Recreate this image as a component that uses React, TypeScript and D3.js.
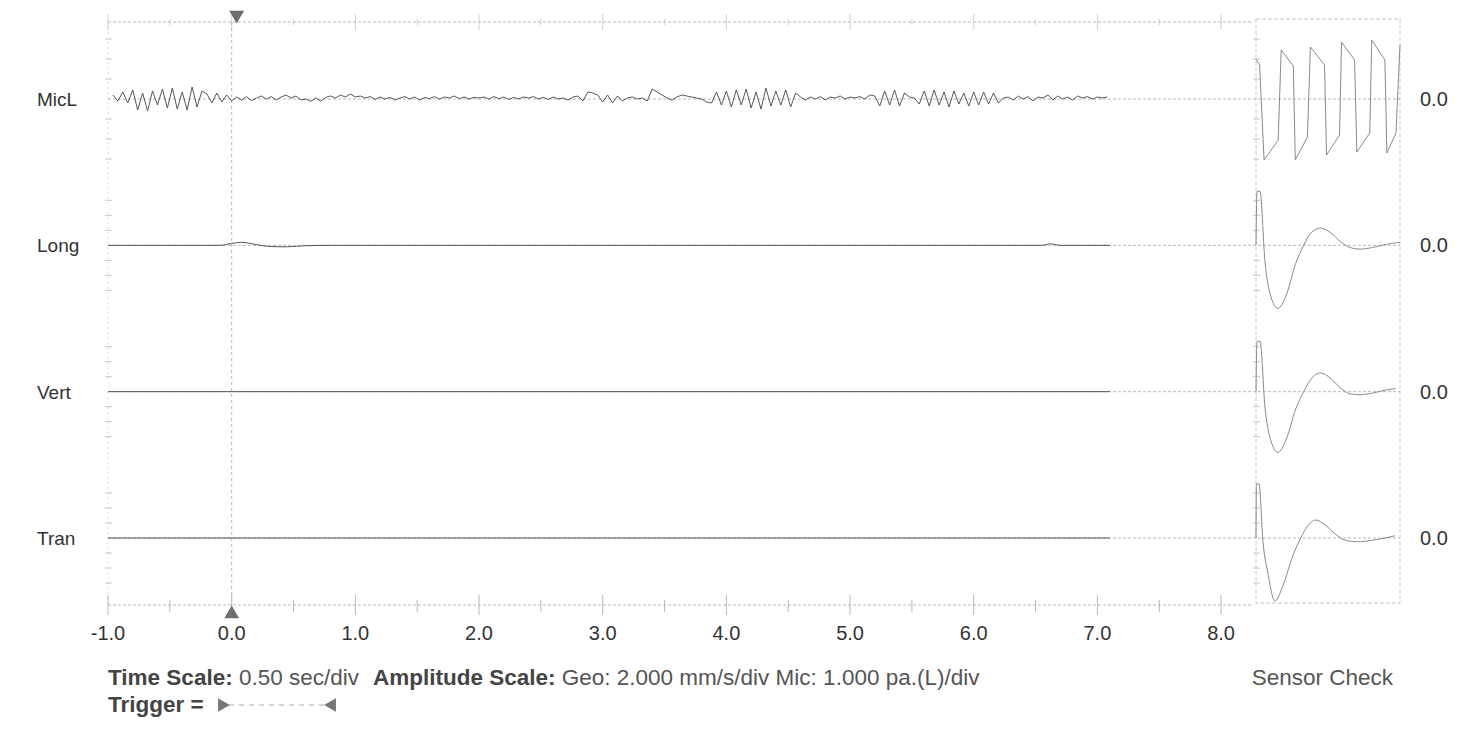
import React, { useRef, useEffect } from 'react';
import * as d3 from 'd3';

const channels = ['MicL', 'Long', 'Vert', 'Tran'];
const xTicks = [-1, 0, 1, 2, 3, 4, 5, 6, 7, 8];
const channelZero = ['0.0', '0.0', '0.0', '0.0'];

// MicL record, one sample every 0.04 s starting at -0.96 s (pa)
const micStart = -0.96;
const micStep = 0.04;
const micValues = [
  0.2, -0.1, 0.35, -0.2, 0.45, -0.55, 0.3, -0.6, 0.4, -0.3, 0.5, -0.45, 0.55, -0.5, 0.35, -0.55, 0.6, -0.4, 0.4, 0.25, -0.2, 0.3, -0.15, 0.2, -0.1,
  0.1, -0.05, 0.12, -0.08, 0.05, 0.15, 0.0, 0.12, -0.05, 0.1, 0.2, 0.05, 0.15, -0.05, 0.0, -0.12, 0.05, -0.1, 0.08, 0.15, 0.05, 0.2, 0.1, 0.25, 0.1,
  0.15, 0.05, 0.12, -0.02, 0.1, 0.0, 0.08, -0.05, 0.05, 0.12, 0.0, 0.1, -0.05, 0.08, 0.02, 0.12, 0.0, 0.1, 0.05, 0.15, 0.02, 0.1, 0.0, 0.08, 0.05,
  0.1, 0.0, 0.12, 0.02, 0.1, -0.02, 0.08, 0.0, 0.1, 0.05, 0.12, 0.0, 0.08, -0.02, 0.1, 0.0, 0.05, -0.05, 0.1, 0.15, -0.1, 0.35, 0.3, 0.2, -0.15,
  0.2, -0.2, 0.15, -0.1, 0.05, 0.1, 0.0, 0.05, -0.1, 0.5, 0.35, 0.2, 0.05, -0.05, 0.1, 0.2, 0.15, 0.1, 0.05, 0.0, -0.15, -0.2, 0.35, -0.3, 0.4,
  -0.4, 0.45, -0.3, 0.5, -0.45, 0.35, -0.5, 0.55, -0.35, 0.4, -0.3, 0.45, -0.4, 0.3, 0.1, -0.05, 0.1, 0.0, 0.12, -0.05, 0.1, 0.05, 0.15, 0.0, 0.1,
  0.05, 0.12, 0.0, 0.2, 0.15, -0.35, 0.4, -0.3, 0.45, -0.35, 0.3, 0.1, 0.05, -0.25, 0.4, -0.35, 0.45, -0.3, 0.35, -0.4, 0.4, -0.25, 0.3, -0.35, 0.35,
  -0.3, 0.35, -0.25, 0.3, -0.2, 0.05, 0.1, -0.05, 0.15, 0.0, 0.12, -0.1, 0.1, 0.05, 0.2, -0.05, 0.15, 0.0, 0.1, -0.05, 0.15, 0.05, 0.12, 0.0, 0.1,
  0.05, 0.1,
];

// geophone records [time s, mm/s]
const longTrace = [[-1, 0], [-0.1, 0], [0.0, 0.25], [0.08, 0.4], [0.2, 0.1], [0.3, -0.15], [0.45, -0.2], [0.6, -0.05], [0.8, 0], [6.55, 0], [6.62, 0.2], [6.7, 0], [7.1, 0]];
const vertTrace = [[-1, 0], [7.1, 0]];
const tranTrace = [[-1, 0], [7.1, 0]];

// sensor check [fraction of window, value]
const sensorMic = [
  [0.0, 2.0], [0.025, 1.7], [0.056, -3.05], [0.154, -2.05], [0.175, 2.45], [0.259, 1.65], [0.273, -3.05], [0.357, -1.9],
  [0.378, 2.6], [0.476, 1.7], [0.49, -2.8], [0.58, -1.8], [0.594, 2.85], [0.685, 1.95], [0.7, -2.65], [0.79, -1.7],
  [0.804, 2.95], [0.895, 1.95], [0.909, -2.7], [0.972, -1.7], [1.0, 2.7],
];
const sensorLong = [
  [0.0, 0], [0.007, 7.2], [0.028, 7.2], [0.062, -2.1], [0.103, -6.8], [0.152, -8.4], [0.207, -6.8], [0.276, -2.4], [0.331, 0],
  [0.379, 1.6], [0.448, 2.3], [0.517, 1.7], [0.586, 0.5], [0.655, -0.3], [0.724, -0.5], [0.807, -0.3], [0.897, 0.1], [1.0, 0.4],
];
const sensorVert = [
  [0.0, 0], [0.007, 6.7], [0.028, 6.7], [0.062, -2.0], [0.103, -6.5], [0.152, -8.1], [0.207, -6.5], [0.276, -2.3], [0.331, 0],
  [0.379, 1.6], [0.448, 2.5], [0.517, 1.8], [0.586, 0.5], [0.655, -0.3], [0.724, -0.4], [0.807, -0.2], [0.897, 0.2], [0.97, 0.4],
];
const sensorTran = [
  [0.0, 0], [0.003, 7.2], [0.021, 7.2], [0.048, -0.4], [0.083, -4.7], [0.131, -8.4], [0.186, -6.4], [0.255, -2.4], [0.31, 0],
  [0.359, 1.6], [0.414, 2.4], [0.483, 1.7], [0.552, 0.5], [0.621, -0.3], [0.71, -0.5], [0.807, -0.3], [0.897, 0], [0.966, 0.3],
];

const WIDTH = 1463;
const HEIGHT = 731;
const FONT = '"Liberation Sans", Arial, sans-serif';

const App: React.FC = () => {
  const svgRef = useRef<SVGSVGElement>(null);

  useEffect(() => {
    if (!svgRef.current) return;
    const svg = d3.select(svgRef.current);
    svg.selectAll('*').remove();

    const top = 22;
    const bottom = 605;
    const left = 108;
    const right = 1252;

    const x = d3.scaleLinear().domain([-1, 8.25]).range([left, right]);
    const sx = d3.scaleLinear().domain([0, 1]).range([1256, 1400]);
    const yBase = d3.scalePoint<string>().domain(channels).range([99, 538]);
    // mic 1 pa/div at 20px, geo 2 mm/s/div at 15px
    const ampMic = d3.scaleLinear().domain([-1, 1]).range([20, -20]);
    const ampGeo = d3.scaleLinear().domain([-2, 2]).range([15, -15]);
    const divPx = (ch: string) => (ch === 'MicL' ? 20 : 15);

    const grid = '#b8b8b8';

    // frame lines
    svg.append('line')
      .attr('x1', left).attr('x2', right).attr('y1', top).attr('y2', top)
      .attr('stroke', grid).attr('stroke-dasharray', '3,2');
    svg.append('line')
      .attr('x1', left).attr('x2', right).attr('y1', bottom).attr('y2', bottom)
      .attr('stroke', grid).attr('stroke-dasharray', '3,2');
    svg.append('line')
      .attr('x1', left).attr('x2', left).attr('y1', top).attr('y2', bottom)
      .attr('stroke', '#dcdcdc').attr('stroke-dasharray', '2,3');

    // half-second ticks on top and bottom
    const halfTicks = d3.range(-1, 8.01, 0.5);
    halfTicks.forEach((t) => {
      const major = Number.isInteger(t);
      svg.append('line')
        .attr('x1', x(t)).attr('x2', x(t))
        .attr('y1', bottom - (major ? 10 : 5)).attr('y2', bottom + (major ? 10 : 7))
        .attr('stroke', grid);
      svg.append('line')
        .attr('x1', x(t)).attr('x2', x(t))
        .attr('y1', top - (major ? 8 : 3)).attr('y2', top + (major ? 8 : 3))
        .attr('stroke', '#d0d0d0');
    });

    // trigger line at 0
    svg.append('line')
      .attr('x1', x(0)).attr('x2', x(0)).attr('y1', top).attr('y2', bottom)
      .attr('stroke', grid).attr('stroke-dasharray', '3,3');

    // x labels
    svg.append('g')
      .selectAll('text')
      .data(xTicks)
      .enter()
      .append('text')
      .attr('x', (d) => x(d))
      .attr('y', 640)
      .attr('text-anchor', 'middle')
      .attr('font-family', FONT)
      .attr('font-size', 20)
      .attr('fill', '#333')
      .text((d) => d.toFixed(1));

    // sensor check frame
    const sTop = 19;
    const sBottom = 603;
    svg.append('rect')
      .attr('x', sx(0)).attr('y', sTop)
      .attr('width', sx(1) - sx(0)).attr('height', sBottom - sTop)
      .attr('fill', 'none').attr('stroke', '#c8c8c8').attr('stroke-dasharray', '4,2');

    // channel baselines, division ticks and labels
    channels.forEach((ch, i) => {
      const y0 = yBase(ch) as number;
      svg.append('line')
        .attr('x1', left).attr('x2', sx(1)).attr('y1', y0).attr('y2', y0)
        .attr('stroke', grid).attr('stroke-dasharray', '3,2');
      const step = divPx(ch);
      [-3, -2, -1, 1, 2, 3].forEach((k) => {
        const yy = y0 + k * step;
        if (yy <= top + 2 || yy >= bottom - 2) return;
        [left, sx(0)].forEach((xx) => {
          svg.append('line')
            .attr('x1', xx - 3).attr('x2', xx + 4).attr('y1', yy).attr('y2', yy)
            .attr('stroke', '#c8c8c8');
        });
      });
      svg.append('text')
        .attr('x', 37).attr('y', y0 + 7)
        .attr('font-family', FONT).attr('font-size', 19).attr('fill', '#333')
        .text(ch);
      svg.append('text')
        .attr('x', 1420).attr('y', y0 + 7)
        .attr('font-family', FONT).attr('font-size', 20).attr('fill', '#333')
        .text(channelZero[i]);
    });

    // MicL record
    const micLine = d3.line<number>()
      .x((_, i) => x(micStart + i * micStep))
      .y((v) => (yBase('MicL') as number) + ampMic(v))
      .curve(d3.curveLinear);
    svg.append('path')
      .attr('d', micLine(micValues))
      .attr('fill', 'none').attr('stroke', '#444').attr('stroke-width', 0.9);

    // geophone records
    const geoRecords: [string, number[][]][] = [['Long', longTrace], ['Vert', vertTrace], ['Tran', tranTrace]];
    geoRecords.forEach(([ch, data]) => {
      const line = d3.line<number[]>()
        .x((d) => x(d[0]))
        .y((d) => (yBase(ch) as number) + ampGeo(d[1]))
        .curve(d3.curveMonotoneX);
      svg.append('path')
        .attr('d', line(data))
        .attr('fill', 'none').attr('stroke', '#555').attr('stroke-width', 1);
    });

    // sensor check traces
    const micSensorLine = d3.line<number[]>()
      .x((d) => sx(d[0]))
      .y((d) => (yBase('MicL') as number) + ampMic(d[1]));
    svg.append('path')
      .attr('d', micSensorLine(sensorMic))
      .attr('fill', 'none').attr('stroke', '#8a8a8a').attr('stroke-width', 1);

    const sensorGeo: [string, number[][]][] = [['Long', sensorLong], ['Vert', sensorVert], ['Tran', sensorTran]];
    sensorGeo.forEach(([ch, data]) => {
      const line = d3.line<number[]>()
        .x((d) => sx(d[0]))
        .y((d) => (yBase(ch) as number) + ampGeo(d[1]))
        .curve(d3.curveMonotoneX);
      svg.append('path')
        .attr('d', line(data))
        .attr('fill', 'none').attr('stroke', '#8a8a8a').attr('stroke-width', 1);
    });

    // trigger markers
    const tri = d3.symbol().type(d3.symbolTriangle).size(95);
    svg.append('path')
      .attr('d', tri())
      .attr('transform', `translate(${x(0) + 5},${top - 7}) rotate(180)`)
      .attr('fill', '#6e6e6e');
    svg.append('path')
      .attr('d', tri())
      .attr('transform', `translate(${x(0)},${bottom + 9})`)
      .attr('fill', '#6e6e6e');

    // footer
    const footer = svg.append('text')
      .attr('x', 108).attr('y', 685)
      .attr('font-family', FONT).attr('font-size', 22.5).attr('fill', '#555')
      .attr('xml:space', 'preserve');
    footer.append('tspan').attr('font-weight', 'bold').attr('fill', '#444').text('Time Scale:');
    footer.append('tspan').text(' 0.50 sec/div');
    footer.append('tspan').attr('dx', 14).attr('font-weight', 'bold').attr('fill', '#444').text('Amplitude Scale:');
    footer.append('tspan').text(' Geo: 2.000 mm/s/div Mic: 1.000 pa.(L)/div');

    svg.append('text')
      .attr('x', 1393).attr('y', 685).attr('text-anchor', 'end')
      .attr('font-family', FONT).attr('font-size', 22.5).attr('fill', '#555')
      .text('Sensor Check');

    svg.append('text')
      .attr('x', 108).attr('y', 712)
      .attr('font-family', FONT).attr('font-size', 22.5).attr('font-weight', 'bold').attr('fill', '#444')
      .text('Trigger =');
    svg.append('path')
      .attr('d', tri.size(80)())
      .attr('transform', `translate(222,705) rotate(90)`)
      .attr('fill', '#777');
    svg.append('line')
      .attr('x1', 229).attr('x2', 326).attr('y1', 705).attr('y2', 705)
      .attr('stroke', '#aaa').attr('stroke-dasharray', '5,5');
    svg.append('path')
      .attr('d', tri.size(80)())
      .attr('transform', `translate(332,705) rotate(-90)`)
      .attr('fill', '#777');
  }, []);

  return (
    <div style={{ margin: -8 }}>
      <svg ref={svgRef} width={WIDTH} height={HEIGHT} style={{ display: 'block', background: '#fff' }} />
    </div>
  );
};

export default App;
